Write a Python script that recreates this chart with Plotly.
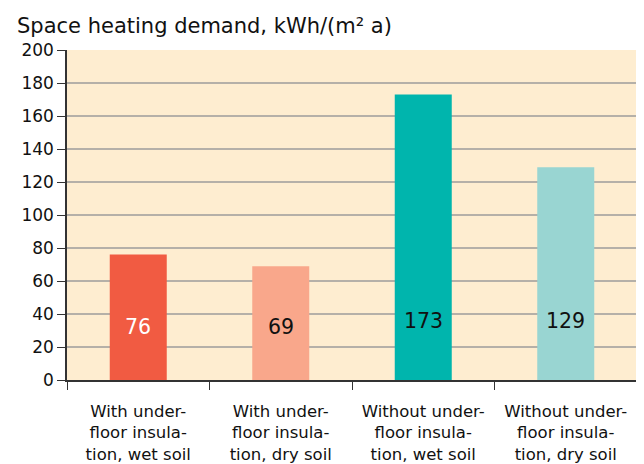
import plotly.graph_objects as go

categories = [
    "With under-<br>floor insula-<br>tion, wet soil",
    "With under-<br>floor insula-<br>tion, dry soil",
    "Without under-<br>floor insula-<br>tion, wet soil",
    "Without under-<br>floor insula-<br>tion, dry soil",
]
values = [76, 69, 173, 129]
value_labels = ["76", "69", "173", "129"]
bar_colors = ["#F15B42", "#F9A78B", "#00B5AD", "#99D5D2"]
label_colors = ["#FFFFFF", "#111111", "#111111", "#111111"]
label_y = [32, 32, 36, 36]
y_ticks = [0, 20, 40, 60, 80, 100, 120, 140, 160, 180, 200]
title_text = "Space heating demand, kWh/(m² a)"

FONT = "DejaVu Sans, sans-serif"

fig = go.Figure()
fig.add_trace(go.Bar(
    x=categories, y=values,
    marker=dict(color=bar_colors, line=dict(width=0)),
    width=0.4,
    hoverinfo="skip",
))

for c, lab, col, ly in zip(categories, value_labels, label_colors, label_y):
    fig.add_annotation(x=c, y=ly, text=lab, showarrow=False,
                       font=dict(family=FONT, size=20.5, color=col))

fig.add_annotation(xref="paper", yref="paper", x=-0.091, y=1.073,
                   xanchor="left", yanchor="middle", text=title_text,
                   showarrow=False, font=dict(family=FONT, size=21, color="#111111"))

fig.add_shape(type="line", xref="paper", yref="paper", x0=1, x1=1, y0=0, y1=1,
              line=dict(color="#222222", width=1.5))

# page body has an 8px margin: size/margins compensate so the plot lands where the reference has it
fig.update_layout(
    width=636, height=456,
    margin=dict(l=59, r=7, t=42, b=84, autoexpand=False),
    paper_bgcolor="white",
    plot_bgcolor="#FEEDD0",
    showlegend=False,
    font=dict(family=FONT, size=17, color="#111111"),
)
fig.update_xaxes(
    tickson="boundaries", ticks="outside", ticklen=8, tickcolor="#333333",
    showline=True, linecolor="#333333", linewidth=2,
    tickfont=dict(family=FONT, size=16.5, color="#111111"),
    ticklabelstandoff=15,
    showgrid=False, automargin=False,
)
fig.update_yaxes(
    range=[0, 200], tickvals=y_ticks, ticks="outside", ticklen=8,
    tickcolor="#333333", showline=True, linecolor="#333333", linewidth=1.5,
    gridcolor="#B5B0A8", gridwidth=1.5, zeroline=False,
    tickfont=dict(family=FONT, size=17, color="#111111"), automargin=False,
)

fig.write_html("out.html")
